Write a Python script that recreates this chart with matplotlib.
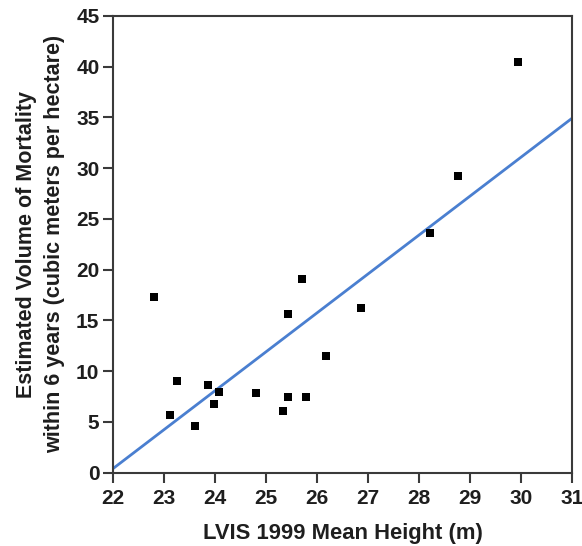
import matplotlib
matplotlib.use("Agg")
import matplotlib.pyplot as plt
import numpy as np

# values
mean_height = [22.79, 23.11, 23.26, 23.61, 23.86, 23.97, 24.08, 24.80, 25.33,
               25.42, 25.42, 25.71, 25.78, 26.17, 26.86, 28.22, 28.76, 29.95]
mortality = [17.3, 5.7, 9.0, 4.6, 8.6, 6.8, 8.0, 7.9, 6.1,
             15.6, 7.5, 19.1, 7.5, 11.5, 16.2, 23.6, 29.2, 40.5]
fit_x = [22, 31]
fit_y = [0.43, 34.9]

x_ticks = list(range(22, 32))
y_ticks = list(range(0, 50, 5))

plt.rcParams["font.family"] = ["Liberation Sans", "DejaVu Sans"]
axis_color = "#3a3a3a"
text_color = "#1e1e1e"

fig = plt.figure(figsize=(5.82, 5.46), dpi=100)
ax = fig.add_axes([0.1947, 0.1342, 0.7876, 0.8365])

ax.plot(fit_x, fit_y, color="#4a7fd0", linewidth=2.0, zorder=2)
ax.scatter(mean_height, mortality, marker="s", s=34, color="black",
           linewidths=0, zorder=3)

ax.set_xlim(22, 31)
ax.set_ylim(0, 45)
ax.set_xticks(x_ticks)
ax.set_yticks(y_ticks)
ax.tick_params(direction="out", length=7, width=1.5, color=axis_color,
               labelsize=15, labelcolor=text_color, pad=3)
ax.tick_params(axis="x", pad=5)
for label in ax.get_xticklabels() + ax.get_yticklabels():
    label.set_fontweight("bold")
for spine in ax.spines.values():
    spine.set_color(axis_color)
    spine.set_linewidth(1.5)

ax.set_xlabel("LVIS 1999 Mean Height (m)", fontsize=15.8, fontweight="bold",
              color=text_color, va="center")
ax.xaxis.set_label_coords(0.5, -0.134)
ax.set_ylabel("Estimated Volume of Mortality\nwithin 6 years (cubic meters per hectare)",
              fontsize=15.5, fontweight="bold", color=text_color,
              linespacing=1.45, va="center", ha="center")
ax.yaxis.set_label_coords(-0.158, 0.5)

fig.savefig("out.png", dpi=100)
